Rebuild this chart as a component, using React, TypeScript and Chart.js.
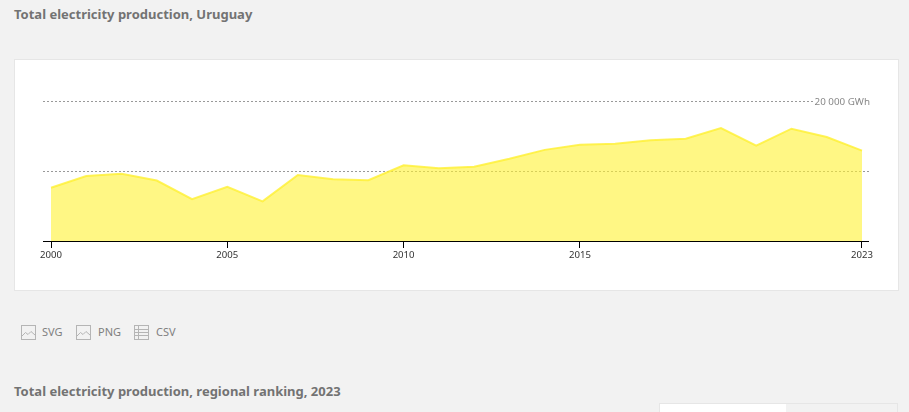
import React, { useEffect, useRef } from "react";
import { Chart, registerables } from "chart.js";

Chart.register(...registerables);

const years = [2000, 2001, 2002, 2003, 2004, 2005, 2006, 2007, 2008, 2009, 2010, 2011, 2012, 2013, 2014, 2015, 2016, 2017, 2018, 2019, 2020, 2021, 2022, 2023];
const production = [7600, 9280, 9620, 8640, 5980, 7730, 5660, 9440, 8830, 8680, 10820, 10390, 10610, 11740, 13020, 13740, 13880, 14380, 14620, 16130, 13620, 16040, 14850, 12920];
const xTicks = [2000, 2005, 2010, 2015, 2023];
const FONT = '"Noto Sans", sans-serif';

const text = (left: number, top: number, size: number, weight: number, color: string): React.CSSProperties => ({
  position: "absolute", left, top, fontFamily: FONT, fontSize: size, fontWeight: weight, color, lineHeight: "16px", whiteSpace: "nowrap",
});

function ImgIcon({ x }: { x: number }) {
  return (
    <svg style={{ position: "absolute", left: x, top: 325 }} width="15" height="15" viewBox="0 0 15 15">
      <rect x="0.5" y="0.5" width="14" height="14" fill="none" stroke="#b5b5b5" />
      <path d="M1 11 L4.5 7.5 L7 9.5 L10 6.5 L14 10" fill="none" stroke="#b5b5b5" />
    </svg>
  );
}

function TableIcon({ x }: { x: number }) {
  return (
    <svg style={{ position: "absolute", left: x, top: 325 }} width="15" height="15" viewBox="0 0 15 15">
      <rect x="0.5" y="0.5" width="14" height="14" fill="none" stroke="#b5b5b5" />
      <path d="M0.5 4.5 H14.5 M0.5 7.5 H14.5 M0.5 10.5 H14.5 M4.5 0.5 V14.5" fill="none" stroke="#b5b5b5" />
    </svg>
  );
}

export default function App() {
  const ref = useRef<HTMLCanvasElement>(null);
  useEffect(() => {
    const chart = new Chart(ref.current!, {
      type: "line",
      data: {
        labels: years,
        datasets: [{
          data: years.map((y, i) => ({ x: y, y: production[i] })),
          fill: "origin",
          backgroundColor: "rgba(255,242,50,0.6)",
          borderColor: "rgba(255,240,50,0.8)",
          borderWidth: 2,
          pointRadius: 0,
          tension: 0,
        }],
      },
      options: {
        animation: false,
        responsive: false,
        layout: { padding: { left: 28, right: 28, top: 41, bottom: 0 } },
        plugins: { legend: { display: false }, tooltip: { enabled: false } },
        scales: {
          x: {
            type: "linear",
            min: 2000 - 8 / 35.26,
            max: 2023 + 8 / 35.26,
            afterBuildTicks: (s: any) => { s.ticks = xTicks.map((value) => ({ value })); },
            afterFit: (s: any) => { s.height = 49; },
            grid: { drawOnChartArea: false, drawTicks: true, tickLength: 7, color: "#000" },
            border: { display: true, color: "#000", width: 1 },
            ticks: {
              autoSkip: false, maxRotation: 0, padding: 2, color: "#333",
              font: { family: FONT, size: 9.6 },
              callback: (v: any) => String(v),
            },
          },
          y: {
            position: "right",
            min: 0,
            max: 20000,
            afterFit: (s: any) => { s.width = 0; },
            grid: { color: "#999", drawTicks: false, lineWidth: 1 },
            border: { display: false, dash: [2, 2] },
            ticks: {
              stepSize: 10000, mirror: true, padding: 0, color: "#888", labelOffset: 1,
              font: { family: FONT, size: 9.8 },
              showLabelBackdrop: true, backdropColor: "#fff", backdropPadding: 1,
              callback: (v: any) => (v === 20000 ? "20 000 GWh" : ""),
            },
          },
        },
      },
    } as any);
    return () => chart.destroy();
  }, []);

  return (
    <div style={{ position: "fixed", left: 0, top: 0, width: 909, height: 412, background: "#f2f2f2", overflow: "hidden" }}>
      <div style={text(14, 6, 13, 700, "#737373")}>Total electricity production, Uruguay</div>
      <div style={{ position: "absolute", left: 14, top: 59, width: 883, height: 230, background: "#fff", border: "1px solid #e6e6e6" }} />
      <canvas ref={ref} width={883} height={230} style={{ position: "absolute", left: 15, top: 60, width: 883, height: 230 }} />
      <ImgIcon x={21} />
      <div style={text(42, 324, 11, 400, "#808080")}>SVG</div>
      <ImgIcon x={76} />
      <div style={text(98, 324, 11, 400, "#808080")}>PNG</div>
      <TableIcon x={134} />
      <div style={text(156, 324, 11, 400, "#808080")}>CSV</div>
      <div style={text(14, 383, 13, 700, "#737373")}>Total electricity production, regional ranking, 2023</div>
      <div style={{ position: "absolute", left: 659, top: 403, width: 126, height: 20, background: "#fff", border: "1px solid #e6e6e6" }} />
      <div style={{ position: "absolute", left: 786, top: 403, width: 111, height: 20, background: "#f2f2f2", border: "1px solid #e6e6e6", borderLeft: "none" }} />
    </div>
  );
}
